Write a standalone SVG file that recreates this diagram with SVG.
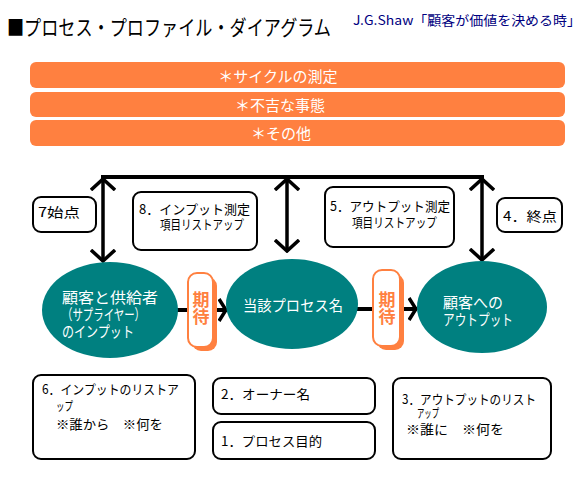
<svg xmlns="http://www.w3.org/2000/svg" width="586" height="478" viewBox="0 0 586 478">
<defs>
<style>
text{font-family:"Noto Sans CJK JP","Liberation Sans",sans-serif;}
.bar{fill:#ff8040;}
.bartxt{fill:#ffffff;font-size:15px;text-anchor:middle;}
.box{fill:#ffffff;stroke:#000000;stroke-width:2;}
.bt{fill:#000000;font-size:13px;}
.ell{fill:#008080;}
.et{fill:#ffffff;font-size:15px;}
.cap{fill:#ffffff;stroke:#ff8040;stroke-width:2;}
.capsh{fill:#ff8040;}
.ct{fill:#ff8040;font-size:17px;font-weight:bold;writing-mode:vertical-rl;}
.ln{fill:none;stroke:#000000;stroke-width:4;}
.vl{fill:none;stroke:#000000;stroke-width:3.5;marker-start:url(#vh);marker-end:url(#vh);}
.hl{fill:none;stroke:#000000;stroke-width:4;}
</style>
<marker id="vh" markerUnits="userSpaceOnUse" viewBox="0 0 14 26" refX="12" refY="13" markerWidth="14" markerHeight="26" orient="auto-start-reverse">
<path d="M1,1 L12,13 L1,25" fill="none" stroke="#000000" stroke-width="3.5"/>
</marker>
<marker id="hh" markerUnits="userSpaceOnUse" viewBox="0 0 10 26" refX="9" refY="13" markerWidth="10" markerHeight="26" orient="auto">
<path d="M1,2 L8,13 L1,24" fill="none" stroke="#000000" stroke-width="3.5"/>
</marker>
</defs>
<rect width="586" height="478" fill="#ffffff"/>

<g id="title">
<text x="7" y="35" font-size="21" fill="#000000" textLength="324" lengthAdjust="spacingAndGlyphs">■プロセス・プロファイル・ダイアグラム</text>
<text x="353" y="25" font-size="13" fill="#000080" textLength="228" lengthAdjust="spacingAndGlyphs">J.G.Shaw「顧客が価値を決める時」</text>
</g>

<g id="bar1"><rect class="bar" x="30" y="62" width="535" height="26" rx="6"/><text class="bartxt" x="278" y="82">＊サイクルの測定</text></g>
<g id="bar2"><rect class="bar" x="30" y="92" width="535" height="25" rx="6"/><text class="bartxt" x="280" y="111">＊不吉な事態</text></g>
<g id="bar3"><rect class="bar" x="30" y="120" width="535" height="26" rx="6"/><text class="bartxt" x="281" y="139">＊その他</text></g>

<g id="connectors">
<path class="ln" d="M101,177 L484,177"/>
<path class="vl" d="M103,179 L103,261"/>
<path class="vl" d="M287,179 L287,251"/>
<path class="vl" d="M482,179 L482,260"/>
<path class="hl" d="M176,310 L189,310"/>
<path class="hl" d="M217,310 L227,310" marker-end="url(#hh)"/>
<path class="hl" d="M357,309 L374,309"/>
<path class="hl" d="M404,309 L417,309" marker-end="url(#hh)"/>
</g>

<g id="box7"><rect class="box" x="33" y="197" width="63" height="35" rx="8"/><text class="bt" x="38" y="217" font-size="14" textLength="42" lengthAdjust="spacingAndGlyphs">7始点</text></g>
<g id="box8"><rect class="box" x="133" y="192" width="124" height="58" rx="8"/>
<text class="bt"><tspan x="139" y="214" textLength="111" lengthAdjust="spacingAndGlyphs">8．インプット測定</tspan><tspan x="160" y="229" textLength="84" lengthAdjust="spacingAndGlyphs">項目リストアップ</tspan></text></g>
<g id="box5"><rect class="box" x="325" y="187" width="129" height="60" rx="8"/>
<text class="bt"><tspan x="330" y="211" textLength="120" lengthAdjust="spacingAndGlyphs">5．アウトプット測定</tspan><tspan x="352" y="227" textLength="85" lengthAdjust="spacingAndGlyphs">項目リストアップ</tspan></text></g>
<g id="box4"><rect class="box" x="497" y="198" width="65" height="34" rx="8"/><text class="bt" x="503" y="221" font-size="14" textLength="54" lengthAdjust="spacingAndGlyphs">4．終点</text></g>

<g id="input">
<ellipse class="ell" cx="110" cy="310" rx="68" ry="48"/>
<text class="et"><tspan x="62" y="303" textLength="96" lengthAdjust="spacingAndGlyphs">顧客と供給者</tspan><tspan x="62" y="320" textLength="83" lengthAdjust="spacingAndGlyphs">（サプライヤー）</tspan><tspan x="62" y="337" textLength="72" lengthAdjust="spacingAndGlyphs">のインプット</tspan></text>
</g>
<g id="process">
<ellipse class="ell" cx="292" cy="304" rx="66" ry="45"/>
<text class="et" x="243" y="311" font-size="16" textLength="100" lengthAdjust="spacingAndGlyphs">当該プロセス名</text>
</g>
<g id="output">
<ellipse class="ell" cx="482" cy="307" rx="65" ry="46"/>
<text class="et"><tspan x="443" y="308" textLength="60" lengthAdjust="spacingAndGlyphs">顧客への</tspan><tspan x="443" y="325" textLength="70" lengthAdjust="spacingAndGlyphs">アウトプット</tspan></text>
</g>

<g id="expect1">
<rect class="capsh" x="192" y="277" width="25" height="74" rx="9"/>
<rect class="cap" x="188" y="273" width="25" height="74" rx="9"/>
<text class="ct" x="201" y="291">期待</text>
</g>
<g id="expect2">
<rect class="capsh" x="377" y="274" width="27" height="76" rx="9"/>
<rect class="cap" x="373" y="270" width="27" height="76" rx="9"/>
<text class="ct" x="387" y="291">期待</text>
</g>

<g id="box6"><rect class="box" x="33" y="375" width="162" height="84" rx="8"/>
<text class="bt"><tspan x="42" y="394" textLength="137" lengthAdjust="spacingAndGlyphs">6．インプットのリストア</tspan><tspan x="56" y="411" font-size="12" textLength="17" lengthAdjust="spacingAndGlyphs">ップ</tspan><tspan x="56" y="429" textLength="107" lengthAdjust="spacingAndGlyphs">※誰から　※何を</tspan></text></g>
<g id="box2"><rect class="box" x="213" y="378" width="162" height="36" rx="8"/>
<text class="bt" x="221" y="399" textLength="89" lengthAdjust="spacingAndGlyphs">2．オーナー名</text></g>
<g id="box1"><rect class="box" x="213" y="422" width="162" height="37" rx="8"/>
<text class="bt" x="221" y="446" textLength="101" lengthAdjust="spacingAndGlyphs">1．プロセス目的</text></g>
<g id="box3"><rect class="box" x="393" y="378" width="158" height="81" rx="8"/>
<text class="bt"><tspan x="402" y="404" textLength="134" lengthAdjust="spacingAndGlyphs">3．アウトプットのリスト</tspan><tspan x="417" y="418" font-size="12" textLength="22" lengthAdjust="spacingAndGlyphs">アップ</tspan><tspan x="406" y="434" textLength="98" lengthAdjust="spacingAndGlyphs">※誰に　※何を</tspan></text></g>
</svg>
